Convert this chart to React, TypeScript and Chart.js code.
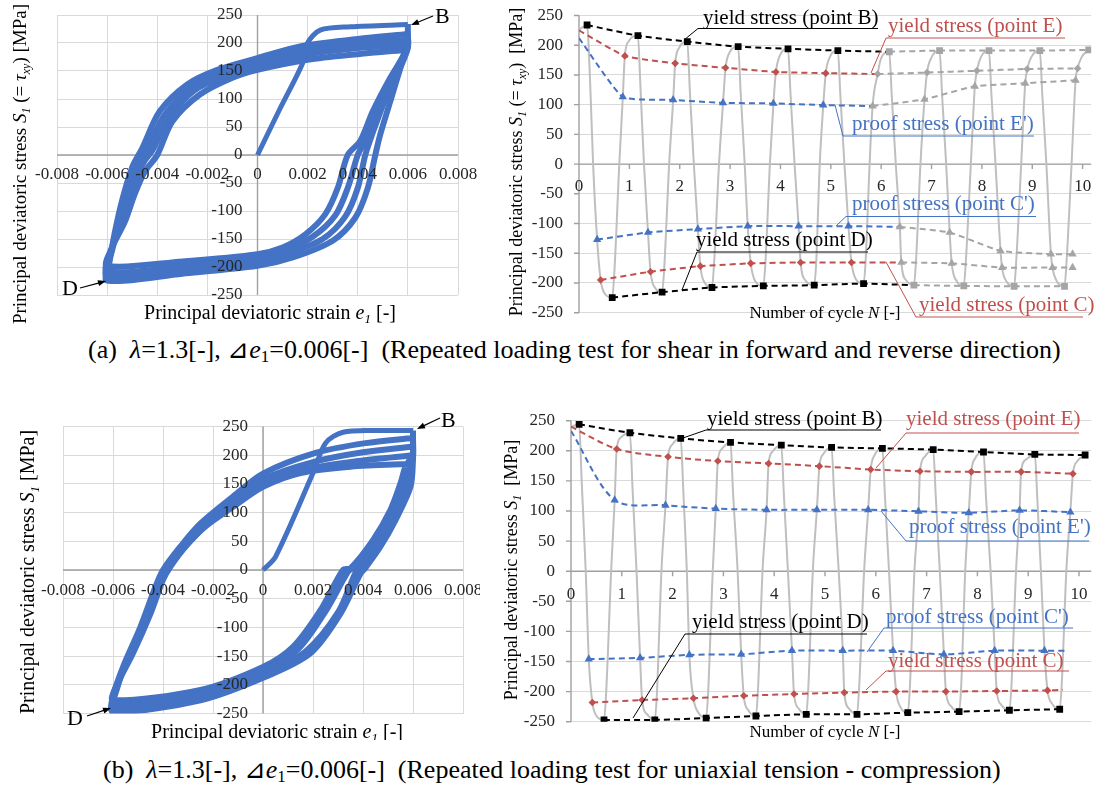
import React, { useEffect, useRef } from "react";
import { Chart, registerables } from "chart.js";
Chart.register(...registerables);

const FONT = "'Liberation Serif', 'Times New Roman', serif";
const BLUE = "#4472C4";
const RED = "#C0504D";
const BLACK = "#000000";
const GRAYM = "#A5A5A5";
const CURVE = "#BFBFBF";
const GRID = "#D9D9D9";
const AXIS = "#A0A0A0";
const TXT = "#262626";

type P = [number, number];

// ---------- tick values / labels ----------
const strainTicks = [-0.008, -0.006, -0.004, -0.002, 0, 0.002, 0.004, 0.006, 0.008];
const strainLabels = ["-0.008", "-0.006", "-0.004", "-0.002", "0", "0.002", "0.004", "0.006", "0.008"];
const stressTicks = [250, 200, 150, 100, 50, 0, -50, -100, -150, -200, -250];
const stressLabels = ["250", "200", "150", "100", "50", "0", "-50", "-100", "-150", "-200", "-250"];
const cycleTicks = [0, 1, 2, 3, 4, 5, 6, 7, 8, 9, 10];
const cycleLabels = ["0", "1", "2", "3", "4", "5", "6", "7", "8", "9", "10"];

// ---------- (a) hysteresis loops (strain, stress) ----------
const hysA_initial: P[] = [[0, 0], [0.0009, 83], [0.0018, 164], [0.002, 200], [0.0025, 223], [0.0037, 229], [0.006, 233]];
const hysA_loop1: P[] = [[0.006, 234], [0.006, 212], [0.006, 191], [0.0057, 155], [0.0053, 96], [0.0049, 37], [0.0047, 0], [0.0044, -59], [0.0039, -112], [0.003, -153], [0.0014, -183], [0, -198], [-0.003, -212], [-0.006, -224], [-0.0059, -190], [-0.0057, -140], [-0.0054, -81], [-0.005, -22], [-0.0046, 12], [-0.0039, 78], [-0.0028, 126], [-0.0016, 152], [0, 173], [0.0017, 194], [0.004, 207], [0.006, 216]];
const hysA_loop2: P[] = [[0.006, 216], [0.006, 195], [0.0057, 160], [0.0051, 100], [0.0046, 40], [0.0043, 0], [0.004, -59], [0.0035, -110], [0.0026, -150], [0.0012, -176], [0, -190], [-0.003, -206], [-0.006, -216], [-0.0058, -170], [-0.0055, -120], [-0.0052, -70], [-0.0047, -15], [-0.0044, 10], [-0.0037, 72], [-0.0026, 121], [-0.0013, 148], [0, 166], [0.0018, 186], [0.004, 200], [0.006, 206]];
const hysA_loop3: P[] = [[0.006, 206], [0.0059, 185], [0.0055, 150], [0.0049, 85], [0.0043, 25], [0.004, 0], [0.0036, -59], [0.0031, -108], [0.0022, -146], [0.0011, -170], [0, -183], [-0.003, -199], [-0.006, -207], [-0.0058, -165], [-0.0054, -110], [-0.005, -55], [-0.0045, -10], [-0.0042, 8], [-0.0035, 68], [-0.0025, 116], [-0.0012, 142], [0, 159], [0.0019, 179], [0.004, 191], [0.006, 197]];
const hysA_loop4: P[] = [[0.006, 197], [0.0058, 175], [0.0053, 138], [0.0046, 78], [0.0041, 25], [0.0036, 0], [0.0032, -59], [0.0027, -106], [0.0019, -142], [0.001, -165], [0, -177], [-0.003, -190], [-0.006, -198], [-0.0058, -165], [-0.0053, -120], [-0.0049, -70], [-0.0045, -30], [-0.004, 0], [-0.0034, 60], [-0.0023, 108], [-0.001, 138], [0, 152], [0.002, 170], [0.004, 180], [0.006, 188]];

// ---------- (b) hysteresis loops ----------
const hysB_initial: P[] = [[0, 0], [0.0005, 23], [0.002, 169], [0.0025, 221], [0.0032, 240], [0.0045, 243], [0.006, 243]];
const hysB_loop1: P[] = [[0.006, 243], [0.006, 215], [0.006, 192], [0.0059, 145], [0.0053, 87], [0.0047, 41], [0.0041, 4], [0.0039, -6], [0.0031, -76], [0.0019, -145], [0.0001, -186], [-0.0025, -227], [-0.006, -247], [-0.006, -220], [-0.0056, -169], [-0.0049, -99], [-0.0043, -29], [-0.004, 0], [-0.0033, 41], [-0.0025, 81], [-0.0012, 128], [0, 168], [0.0021, 204], [0.0041, 221], [0.006, 230]];
const hysB_loop2: P[] = [[0.006, 230], [0.006, 205], [0.0058, 160], [0.0053, 105], [0.0046, 50], [0.0039, 5], [0.0037, -5], [0.003, -74], [0.0017, -142], [0, -180], [-0.0025, -220], [-0.006, -240], [-0.0059, -215], [-0.0055, -163], [-0.0048, -92], [-0.0042, -25], [-0.0039, 2], [-0.0032, 41], [-0.0024, 80], [-0.0012, 122], [0, 158], [0.002, 188], [0.004, 205], [0.006, 215]];
const hysB_loop3: P[] = [[0.006, 215], [0.006, 198], [0.0057, 155], [0.0052, 102], [0.0045, 50], [0.0036, 4], [0.0034, -3], [0.0025, -72], [0.0014, -138], [0, -175], [-0.0025, -214], [-0.006, -233], [-0.0059, -210], [-0.0054, -155], [-0.0047, -85], [-0.0041, -20], [-0.0038, 4], [-0.0031, 41], [-0.0023, 78], [-0.0012, 116], [0, 152], [0.0018, 176], [0.0038, 190], [0.006, 200]];
const hysB_loop4: P[] = [[0.006, 200], [0.0057, 180], [0.0055, 151], [0.0051, 105], [0.0044, 52], [0.0035, 3], [0.0032, 0], [0.0023, -70], [0.0012, -134], [0, -169], [-0.0025, -209], [-0.006, -227], [-0.0059, -205], [-0.0052, -145], [-0.0045, -76], [-0.004, -17], [-0.0037, 6], [-0.0031, 41], [-0.0023, 76], [-0.0012, 110], [0, 145], [0.0015, 169], [0.0035, 180], [0.006, 185]];

// ---------- (a) cycle chart (N, stress) ----------
const aCurve: P[] = [[0, 226], [0.16, 234], [0.22, 140], [0.28, 0], [0.36, -127], [0.43, -195], [0.52, -219], [0.66, -224.5], [0.7, -185], [0.8, 0], [0.87, 113], [0.91, 182], [0.99, 207], [1.17, 216],
  [1.22, 130], [1.29, 0], [1.37, -115], [1.42, -181], [1.51, -208], [1.65, -215.5], [1.69, -178], [1.79, 0], [1.87, 108], [1.91, 169.5], [1.99, 196], [2.15, 206],
  [2.2, 125], [2.28, 0], [2.36, -109], [2.41, -172], [2.5, -200], [2.64, -207.6], [2.68, -170], [2.78, 0], [2.86, 103], [2.91, 162], [2.99, 188], [3.16, 197.5],
  [3.21, 120], [3.29, 0], [3.35, -104], [3.41, -167], [3.5, -197], [3.66, -205], [3.7, -168], [3.79, 0], [3.86, 102], [3.91, 155], [3.99, 183], [4.15, 194],
  [4.2, 118], [4.28, 0], [4.36, -104], [4.4, -165.5], [4.5, -196], [4.67, -203.7], [4.71, -165], [4.78, 0], [4.85, 99], [4.9, 153], [4.98, 180], [5.14, 191],
  [5.19, 115], [5.27, 0], [5.35, -104], [5.41, -165.5], [5.5, -194], [5.65, -201], [5.69, -165], [5.77, 0], [5.83, 98], [5.93, 151.5], [5.99, 176], [6.16, 189],
  [6.21, 115], [6.29, 0], [6.37, -105.5], [6.4, -165.5], [6.5, -196], [6.65, -203.7], [6.69, -165], [6.78, 0], [6.86, 109], [6.91, 154], [6.99, 178], [7.16, 191],
  [7.21, 115], [7.29, 0], [7.36, -115], [7.4, -167], [7.5, -197], [7.64, -205], [7.68, -165], [7.78, 0], [7.86, 131], [7.9, 157], [7.98, 180], [8.14, 191],
  [8.19, 115], [8.27, 0], [8.37, -146], [8.4, -174], [8.5, -199], [8.64, -205.6], [8.68, -165], [8.78, 0], [8.86, 136], [8.9, 160], [8.98, 180], [9.15, 191],
  [9.2, 115], [9.28, 0], [9.37, -151.5], [9.4, -174], [9.5, -199], [9.64, -205.6], [9.68, -165], [9.78, 0], [9.86, 141], [9.9, 161], [9.98, 180], [10.12, 192]];
const aB: P[] = [[0.16, 234], [1.17, 216], [2.15, 206], [3.16, 197.5], [4.15, 194], [5.14, 191], [6.16, 189], [7.16, 191], [8.14, 191], [9.15, 191], [10.12, 192]];
const aE: P[] = [[0, 225], [0.91, 182], [1.91, 169.5], [2.91, 162], [3.91, 155], [4.9, 153], [5.93, 151.5], [6.91, 154], [7.9, 157], [8.9, 160], [9.9, 161]];
const aEp: P[] = [[0, 212], [0.87, 113], [1.87, 108], [2.86, 103], [3.86, 102], [4.85, 99.3], [5.83, 97.6], [6.86, 109], [7.86, 131], [8.86, 136], [9.86, 141]];
const aD: P[] = [[0.66, -224.5], [1.65, -215.5], [2.64, -207.6], [3.66, -205], [4.67, -203.7], [5.65, -201], [6.65, -203.7], [7.64, -205], [8.64, -205.6], [9.64, -205.6]];
const aC: P[] = [[0.43, -195], [1.42, -181], [2.41, -171.7], [3.41, -167], [4.4, -165.5], [5.41, -165.5], [6.4, -165.5], [7.4, -167], [8.4, -174], [9.4, -174], [9.8, -174]];
const aCp: P[] = [[0.36, -127], [1.37, -115], [2.36, -109.4], [3.35, -104.4], [4.36, -104.4], [5.35, -104.4], [6.37, -105.5], [7.36, -115], [8.37, -146], [9.37, -151.5], [9.8, -151.5]];

// ---------- (b) cycle chart ----------
const bCurve: P[] = [[0, 240], [0.16, 244], [0.21, 150], [0.29, 0], [0.35, -146], [0.42, -218], [0.5, -240], [0.65, -247], [0.69, -205], [0.79, 0], [0.86, 118], [0.9, 203], [0.98, 222], [1.16, 230],
  [1.21, 140], [1.29, 0], [1.36, -144], [1.4, -214], [1.5, -238], [1.65, -247], [1.69, -205], [1.78, 0], [1.86, 109.5], [1.91, 190], [1.99, 210], [2.16, 220.7],
  [2.21, 135], [2.28, 0], [2.33, -139], [2.41, -211], [2.5, -234], [2.66, -244], [2.7, -200], [2.79, 0], [2.85, 104], [2.89, 183], [2.97, 203], [3.14, 214],
  [3.19, 130], [3.28, 0], [3.35, -138], [3.4, -207], [3.49, -231], [3.64, -240.5], [3.68, -198], [3.77, 0], [3.85, 102], [3.89, 179], [3.97, 199], [4.14, 209.5],
  [4.19, 128], [4.27, 0], [4.35, -132], [4.39, -204], [4.48, -228], [4.63, -237.7], [4.67, -196], [4.76, 0], [4.84, 102], [4.89, 174.5], [4.97, 195], [5.13, 205.6],
  [5.18, 125], [5.27, 0], [5.35, -132], [5.38, -201.7], [5.47, -228], [5.63, -237.7], [5.67, -196], [5.77, 0], [5.85, 102], [5.9, 169], [5.97, 192], [6.13, 204],
  [6.18, 125], [6.26, 0], [6.34, -132], [6.4, -200], [6.48, -225], [6.63, -235], [6.67, -194], [6.76, 0], [6.84, 99.5], [6.87, 166], [6.96, 190], [7.13, 202],
  [7.18, 125], [7.26, 0], [7.34, -138], [7.38, -200], [7.48, -224], [7.64, -233.3], [7.68, -192], [7.76, 0], [7.83, 97], [7.88, 165], [7.96, 188], [8.12, 198],
  [8.17, 122], [8.26, 0], [8.34, -132], [8.38, -199], [8.47, -222], [8.63, -231], [8.67, -190], [8.76, 0], [8.83, 101], [8.86, 165], [8.95, 185], [9.13, 194],
  [9.18, 120], [9.25, 0], [9.32, -132], [9.38, -198], [9.47, -220], [9.62, -229.3], [9.66, -188], [9.75, 0], [9.83, 98], [9.88, 162], [9.96, 182], [10.12, 193]];
const bB: P[] = [[0.16, 244], [1.16, 230], [2.16, 220.7], [3.14, 214], [4.14, 209.5], [5.13, 205.6], [6.13, 204], [7.13, 202], [8.12, 198], [9.13, 194], [10.12, 193]];
const bE: P[] = [[0, 240], [0.9, 203], [1.91, 190], [2.89, 183], [3.89, 179], [4.89, 174.5], [5.9, 169], [6.87, 166], [7.88, 165], [8.86, 165], [9.88, 162]];
const bEp: P[] = [[0, 233], [0.86, 118], [1.86, 109.5], [2.85, 104], [3.85, 102], [4.84, 102], [5.85, 102], [6.84, 99.5], [7.83, 97], [8.83, 101], [9.83, 98]];
const bD: P[] = [[0.65, -247], [1.65, -247], [2.66, -244], [3.64, -240.5], [4.63, -237.7], [5.63, -237.7], [6.63, -235], [7.64, -233.3], [8.63, -231], [9.62, -229.3]];
const bC: P[] = [[0.42, -218], [1.4, -214], [2.41, -211], [3.4, -207], [4.39, -204], [5.38, -201.7], [6.4, -200], [7.38, -200], [8.38, -199], [9.38, -198], [9.68, -197]];
const bCp: P[] = [[0.35, -146], [1.36, -144], [2.33, -139], [3.35, -138], [4.35, -132], [5.35, -132], [6.34, -132], [7.34, -138], [8.34, -132], [9.32, -132], [9.78, -132]];

// ---------- text helpers ----------
type Seg = { t: string; i?: boolean; sub?: boolean };
const yTitleA: Seg[] = [{ t: "Principal deviatoric stress " }, { t: "S", i: true }, { t: "1", i: true, sub: true }, { t: " (= " }, { t: "τ", i: true }, { t: "xy", i: true, sub: true }, { t: ") [MPa]" }];
const yTitleA2: Seg[] = [{ t: "Principal deviatoric stress " }, { t: "S", i: true }, { t: "1", i: true, sub: true }, { t: " (= " }, { t: "τ", i: true }, { t: "xy", i: true, sub: true }, { t: ")  [MPa]" }];
const yTitleB: Seg[] = [{ t: "Principal deviatoric stress " }, { t: "S", i: true }, { t: "1", i: true, sub: true }, { t: " [MPa]" }];
const yTitleB2: Seg[] = [{ t: "Principal deviatoric stress " }, { t: "S", i: true }, { t: "1", i: true, sub: true }, { t: "  [MPa]" }];
const xTitleStrain: Seg[] = [{ t: "Principal deviatoric strain " }, { t: "e", i: true }, { t: "1", i: true, sub: true }, { t: " [-]" }];
const xTitleCycle: Seg[] = [{ t: "Number of cycle " }, { t: "N", i: true }, { t: " [-]" }];

function drawRich(ctx: CanvasRenderingContext2D, segs: Seg[], x: number, y: number, size: number, align: "left" | "center", rot: boolean, color: string) {
  ctx.save();
  ctx.translate(x, y);
  if (rot) ctx.rotate(-Math.PI / 2);
  const fontOf = (s: Seg) => `${s.i ? "italic " : ""}${s.sub ? Math.round(size * 0.65) : size}px ${FONT}`;
  let total = 0;
  const ws = segs.map((s) => {
    ctx.font = fontOf(s);
    const w = ctx.measureText(s.t).width;
    total += w;
    return w;
  });
  let cx = align === "center" ? -total / 2 : 0;
  const base = rot ? size * 0.32 : 0;
  ctx.fillStyle = color;
  ctx.textBaseline = "alphabetic";
  ctx.textAlign = "left";
  segs.forEach((s, k) => {
    ctx.font = fontOf(s);
    ctx.fillText(s.t, cx, base + (s.sub ? size * 0.22 : 0));
    cx += ws[k];
  });
  ctx.restore();
}

type Title = { segs: Seg[]; x: number; y: number; size: number; rot: boolean; align?: "left" | "center" };
type Note = { t: string; c: string; x: number; y: number; ul: [number, number, number]; ld: [number, number, number, number] };
type Mark = { t: string; x: number; y: number; from: P; to: P };
type Decor = {
  left: number; top: number;
  xTicks: number[]; xLabels: string[]; yTicks: number[]; yLabels: string[];
  xDy: number; yDx: number; tickMarks: boolean;
  titles: Title[]; notes: Note[]; marks: Mark[];
};

function makeDecor(d: Decor) {
  return {
    id: "decor",
    beforeDatasetsDraw(chart: any) {
      const { ctx, chartArea: a, scales } = chart;
      const xs = scales.x, ys = scales.y;
      const x0 = xs.getPixelForValue(0), y0 = ys.getPixelForValue(0);
      ctx.save();
      ctx.strokeStyle = AXIS;
      ctx.lineWidth = 1.4;
      ctx.beginPath();
      ctx.moveTo(a.left, y0); ctx.lineTo(a.right, y0);
      ctx.moveTo(x0, a.top); ctx.lineTo(x0, a.bottom);
      if (d.tickMarks) {
        d.xTicks.forEach((v) => { const px = xs.getPixelForValue(v); ctx.moveTo(px, y0); ctx.lineTo(px, y0 + 5); });
        d.yTicks.forEach((v) => { const py = ys.getPixelForValue(v); ctx.moveTo(x0 - 5, py); ctx.lineTo(x0, py); });
      }
      ctx.stroke();
      ctx.restore();
    },
    afterDatasetsDraw(chart: any) {
      const { ctx, scales } = chart;
      const xs = scales.x, ys = scales.y;
      const x0 = xs.getPixelForValue(0), y0 = ys.getPixelForValue(0);
      ctx.save();
      ctx.font = `17px ${FONT}`;
      ctx.fillStyle = TXT;
      ctx.textBaseline = "middle";
      ctx.textAlign = "center";
      d.xTicks.forEach((v, k) => ctx.fillText(d.xLabels[k], xs.getPixelForValue(v), y0 + d.xDy));
      ctx.textAlign = "right";
      d.yTicks.forEach((v, k) => ctx.fillText(d.yLabels[k], x0 - d.yDx, ys.getPixelForValue(v)));
      ctx.restore();
      d.titles.forEach((t) => drawRich(ctx, t.segs, t.x - d.left, t.y - d.top, t.size, t.align || "center", t.rot, "#000"));
      d.notes.forEach((n) => {
        ctx.save();
        ctx.font = `21px ${FONT}`;
        ctx.fillStyle = n.c;
        ctx.textAlign = "left";
        ctx.textBaseline = "alphabetic";
        ctx.fillText(n.t, n.x - d.left, n.y - d.top);
        ctx.strokeStyle = n.c;
        ctx.lineWidth = 1;
        ctx.beginPath();
        ctx.moveTo(n.ul[0] - d.left, n.ul[2] - d.top); ctx.lineTo(n.ul[1] - d.left, n.ul[2] - d.top);
        ctx.moveTo(n.ld[0] - d.left, n.ld[1] - d.top); ctx.lineTo(n.ld[2] - d.left, n.ld[3] - d.top);
        ctx.stroke();
        ctx.restore();
      });
      d.marks.forEach((m) => {
        ctx.save();
        ctx.font = `22px ${FONT}`;
        ctx.fillStyle = "#000";
        ctx.textAlign = "left";
        ctx.textBaseline = "alphabetic";
        ctx.fillText(m.t, m.x - d.left, m.y - d.top);
        const fx = m.from[0] - d.left, fy = m.from[1] - d.top, tx = m.to[0] - d.left, ty = m.to[1] - d.top;
        const ang = Math.atan2(ty - fy, tx - fx);
        ctx.strokeStyle = "#000";
        ctx.lineWidth = 1.2;
        ctx.beginPath();
        ctx.moveTo(fx, fy);
        ctx.lineTo(tx - 6 * Math.cos(ang), ty - 6 * Math.sin(ang));
        ctx.stroke();
        ctx.beginPath();
        ctx.moveTo(tx, ty);
        ctx.lineTo(tx - 8 * Math.cos(ang) + 3 * Math.sin(ang), ty - 8 * Math.sin(ang) - 3 * Math.cos(ang));
        ctx.lineTo(tx - 8 * Math.cos(ang) - 3 * Math.sin(ang), ty - 8 * Math.sin(ang) + 3 * Math.cos(ang));
        ctx.closePath();
        ctx.fill();
        ctx.restore();
      });
    },
  };
}

const pts = (a: P[]) => a.map(([x, y]) => ({ x, y }));

function axisCfg(min: number, max: number, ticks: number[], grid: boolean) {
  return {
    type: "linear",
    min,
    max,
    afterBuildTicks: (s: any) => { s.ticks = ticks.map((v) => ({ value: v })); },
    ticks: { display: false },
    grid: { display: grid, color: GRID, lineWidth: 1, drawTicks: false },
    border: { display: false },
  };
}

function hysConfig(initial: P[], loops: P[][], pad: any, decor: Decor) {
  const datasets = [initial, ...loops].map((l, k) => ({
    data: pts(l),
    borderColor: BLUE,
    borderWidth: k === 0 ? 5 : 6,
    pointRadius: 0,
    tension: 0.3,
    fill: false,
  }));
  return {
    type: "line",
    data: { datasets },
    options: {
      responsive: false,
      animation: false,
      events: [],
      layout: { padding: pad },
      plugins: { legend: { display: false }, tooltip: { enabled: false } },
      scales: {
        x: axisCfg(-0.008, 0.008, strainTicks, true),
        y: axisCfg(-250, 250, stressTicks, true),
      },
    },
    plugins: [makeDecor(decor)],
  };
}

type Series = { data: P[]; color: string; style: string; hide?: number[] };

function seriesDs(s: Series, tension: number) {
  return {
    data: pts(s.data),
    borderColor: s.color,
    borderWidth: 2,
    borderDash: [6, 4],
    tension,
    pointStyle: s.style,
    pointRadius: s.data.map((_, k) => (s.hide && s.hide.includes(k) ? 0 : s.style === "rect" ? 4.8 : s.style === "triangle" ? 4.8 : 3.8)),
    pointBackgroundColor: s.color,
    pointBorderColor: s.color,
    pointBorderWidth: 0,
    fill: false,
    order: 1,
  };
}

function cycleConfig(curve: P[], series: Series[], tension: number, maxN: number, pad: any, decor: Decor) {
  const datasets: any[] = [
    {
      data: pts(curve),
      borderColor: CURVE,
      borderWidth: 2,
      pointRadius: 0,
      cubicInterpolationMode: "monotone",
      fill: false,
      order: 10,
    },
    ...series.map((s) => seriesDs(s, tension)),
  ];
  return {
    type: "line",
    data: { datasets },
    options: {
      responsive: false,
      animation: false,
      events: [],
      layout: { padding: pad },
      plugins: { legend: { display: false }, tooltip: { enabled: false } },
      scales: {
        x: axisCfg(0, maxN, cycleTicks, false),
        y: axisCfg(-250, 250, stressTicks, true),
      },
    },
    plugins: [makeDecor(decor)],
  };
}

// ---------- panel configs ----------
const decorAL: Decor = {
  left: 0, top: 0,
  xTicks: strainTicks, xLabels: strainLabels, yTicks: stressTicks, yLabels: stressLabels,
  xDy: 20, yDx: 15, tickMarks: false,
  titles: [
    { segs: yTitleA, x: 20, y: 164, size: 19, rot: true },
    { segs: xTitleStrain, x: 270, y: 319, size: 20, rot: false },
  ],
  notes: [],
  marks: [
    { t: "B", x: 435, y: 23, from: [433, 16], to: [411, 25] },
    { t: "D", x: 62, y: 295, from: [80, 288], to: [106, 281] },
  ],
};

const decorAR: Decor = {
  left: 480, top: 0,
  xTicks: cycleTicks, xLabels: cycleLabels, yTicks: stressTicks, yLabels: stressLabels,
  xDy: 22, yDx: 16, tickMarks: true,
  titles: [
    { segs: yTitleA2, x: 516, y: 162, size: 18, rot: true },
    { segs: xTitleCycle, x: 825, y: 318, size: 17, rot: false },
  ],
  notes: [
    { t: "yield stress (point B)", c: BLACK, x: 703, y: 24, ul: [698, 878, 28.5], ld: [698, 28.5, 684, 40] },
    { t: "yield stress (point E)", c: RED, x: 888, y: 32, ul: [886, 1065, 38], ld: [886, 38, 871, 73] },
    { t: "proof stress (point E')", c: BLUE, x: 852, y: 130, ul: [843, 1034, 136], ld: [843, 136, 835, 105] },
    { t: "proof stress (point C')", c: BLUE, x: 852, y: 210, ul: [846, 1036, 216.5], ld: [846, 216.5, 836, 226] },
    { t: "yield stress (point D)", c: BLACK, x: 696, y: 246, ul: [697, 868, 252], ld: [697, 252, 682, 290] },
    { t: "yield stress (point C)", c: RED, x: 919, y: 311, ul: [916, 1083, 317], ld: [916, 317, 886, 262] },
  ],
  marks: [],
};

const decorBL: Decor = {
  left: 0, top: 400,
  xTicks: strainTicks, xLabels: strainLabels, yTicks: stressTicks, yLabels: stressLabels,
  xDy: 21, yDx: 15, tickMarks: false,
  titles: [
    { segs: yTitleB, x: 28, y: 572, size: 20, rot: true },
    { segs: xTitleStrain, x: 277, y: 738, size: 20, rot: false },
  ],
  notes: [],
  marks: [
    { t: "B", x: 441, y: 427, from: [440, 418], to: [417, 429] },
    { t: "D", x: 67, y: 725, from: [87, 716], to: [111, 708] },
  ],
};

const decorBR: Decor = {
  left: 480, top: 400,
  xTicks: cycleTicks, xLabels: cycleLabels, yTicks: stressTicks, yLabels: stressLabels,
  xDy: 23, yDx: 16, tickMarks: true,
  titles: [
    { segs: yTitleB2, x: 511, y: 570, size: 18, rot: true },
    { segs: xTitleCycle, x: 825, y: 737, size: 17, rot: false },
  ],
  notes: [
    { t: "yield stress (point B)", c: BLACK, x: 707, y: 425, ul: [706, 881, 430], ld: [706, 430, 683, 438] },
    { t: "yield stress (point E)", c: RED, x: 906, y: 425, ul: [906, 1079, 433], ld: [906, 433, 876, 468] },
    { t: "proof stress (point E')", c: BLUE, x: 909, y: 533, ul: [906, 1089, 541], ld: [906, 541, 881, 511] },
    { t: "proof stress (point C')", c: BLUE, x: 886, y: 623, ul: [884, 1073, 628], ld: [884, 628, 867, 652] },
    { t: "yield stress (point C)", c: RED, x: 888, y: 667, ul: [886, 1069, 671], ld: [886, 671, 866, 690] },
    { t: "yield stress (point D)", c: BLACK, x: 692, y: 628, ul: [685, 867, 634], ld: [685, 634, 633, 718] },
  ],
  marks: [],
};

const seriesA: Series[] = [
  { data: aB.slice(6), color: GRAYM, style: "rect" },
  { data: aE.slice(6), color: GRAYM, style: "rectRot" },
  { data: aEp.slice(6), color: GRAYM, style: "triangle" },
  { data: aD.slice(6), color: GRAYM, style: "rect" },
  { data: aC.slice(6), color: GRAYM, style: "triangle" },
  { data: aCp.slice(6), color: GRAYM, style: "triangle" },
  { data: aB.slice(0, 7), color: BLACK, style: "rect", hide: [6] },
  { data: aE.slice(0, 7), color: RED, style: "rectRot", hide: [0, 6] },
  { data: aEp.slice(0, 7), color: BLUE, style: "triangle", hide: [0, 6] },
  { data: aD.slice(0, 7), color: BLACK, style: "rect", hide: [6] },
  { data: aC.slice(0, 7), color: RED, style: "rectRot", hide: [6] },
  { data: aCp.slice(0, 7), color: BLUE, style: "triangle", hide: [6] },
];

const seriesB: Series[] = [
  { data: bB, color: BLACK, style: "rect" },
  { data: bE, color: RED, style: "rectRot", hide: [0] },
  { data: bEp, color: BLUE, style: "triangle", hide: [0] },
  { data: bD, color: BLACK, style: "rect" },
  { data: bC, color: RED, style: "rectRot", hide: [10] },
  { data: bCp, color: BLUE, style: "triangle", hide: [10] },
];

function ChartBox(props: { left: number; top: number; width: number; height: number; make: () => any }) {
  const ref = useRef<HTMLCanvasElement>(null);
  useEffect(() => {
    const chart = new Chart(ref.current as HTMLCanvasElement, props.make());
    return () => chart.destroy();
  }, []);
  return (
    <canvas
      ref={ref}
      width={props.width}
      height={props.height}
      style={{ position: "absolute", left: props.left, top: props.top, width: props.width, height: props.height }}
    />
  );
}

const subStyle: React.CSSProperties = { fontSize: "0.65em", verticalAlign: "-0.25em", lineHeight: 0 };

export default function App() {
  return (
    <div style={{ position: "absolute", left: 0, top: 0, width: 1096, height: 786, background: "#fff", overflow: "hidden", fontFamily: FONT }}>
      <ChartBox left={0} top={0} width={480} height={330}
        make={() => hysConfig(hysA_initial, [hysA_loop1, hysA_loop2, hysA_loop3, hysA_loop4], { left: 57, right: 22, top: 15, bottom: 35 }, decorAL)} />
      <ChartBox left={480} top={0} width={616} height={330}
        make={() => cycleConfig(aCurve, seriesA, 0.15, 10.17, { left: 99, right: 0, top: 15.5, bottom: 17.3 }, decorAR)} />
      <ChartBox left={0} top={400} width={480} height={340}
        make={() => hysConfig(hysB_initial, [hysB_loop1, hysB_loop2, hysB_loop3, hysB_loop4], { left: 63, right: 17, top: 26.5, bottom: 26.5 }, decorBL)} />
      <ChartBox left={480} top={400} width={616} height={340}
        make={() => cycleConfig(bCurve, seriesB, 0.3, 10.24, { left: 91, right: 0, top: 20.7, bottom: 18.3 }, decorBR)} />
      <div style={{ position: "absolute", left: 88, top: 335, fontSize: 26, lineHeight: "30px", whiteSpace: "pre", color: "#000" }}>
        (a)  <i>λ</i>=1.3[-], ⊿<i>e</i><sub style={subStyle}>1</sub>=0.006[-]  (Repeated loading test for shear in forward and reverse direction)
      </div>
      <div style={{ position: "absolute", left: 103, top: 755, fontSize: 26, lineHeight: "30px", whiteSpace: "pre", color: "#000" }}>
        (b)  <i>λ</i>=1.3[-], ⊿<i>e</i><sub style={subStyle}>1</sub>=0.006[-]  (Repeated loading test for uniaxial tension - compression)
      </div>
    </div>
  );
}
